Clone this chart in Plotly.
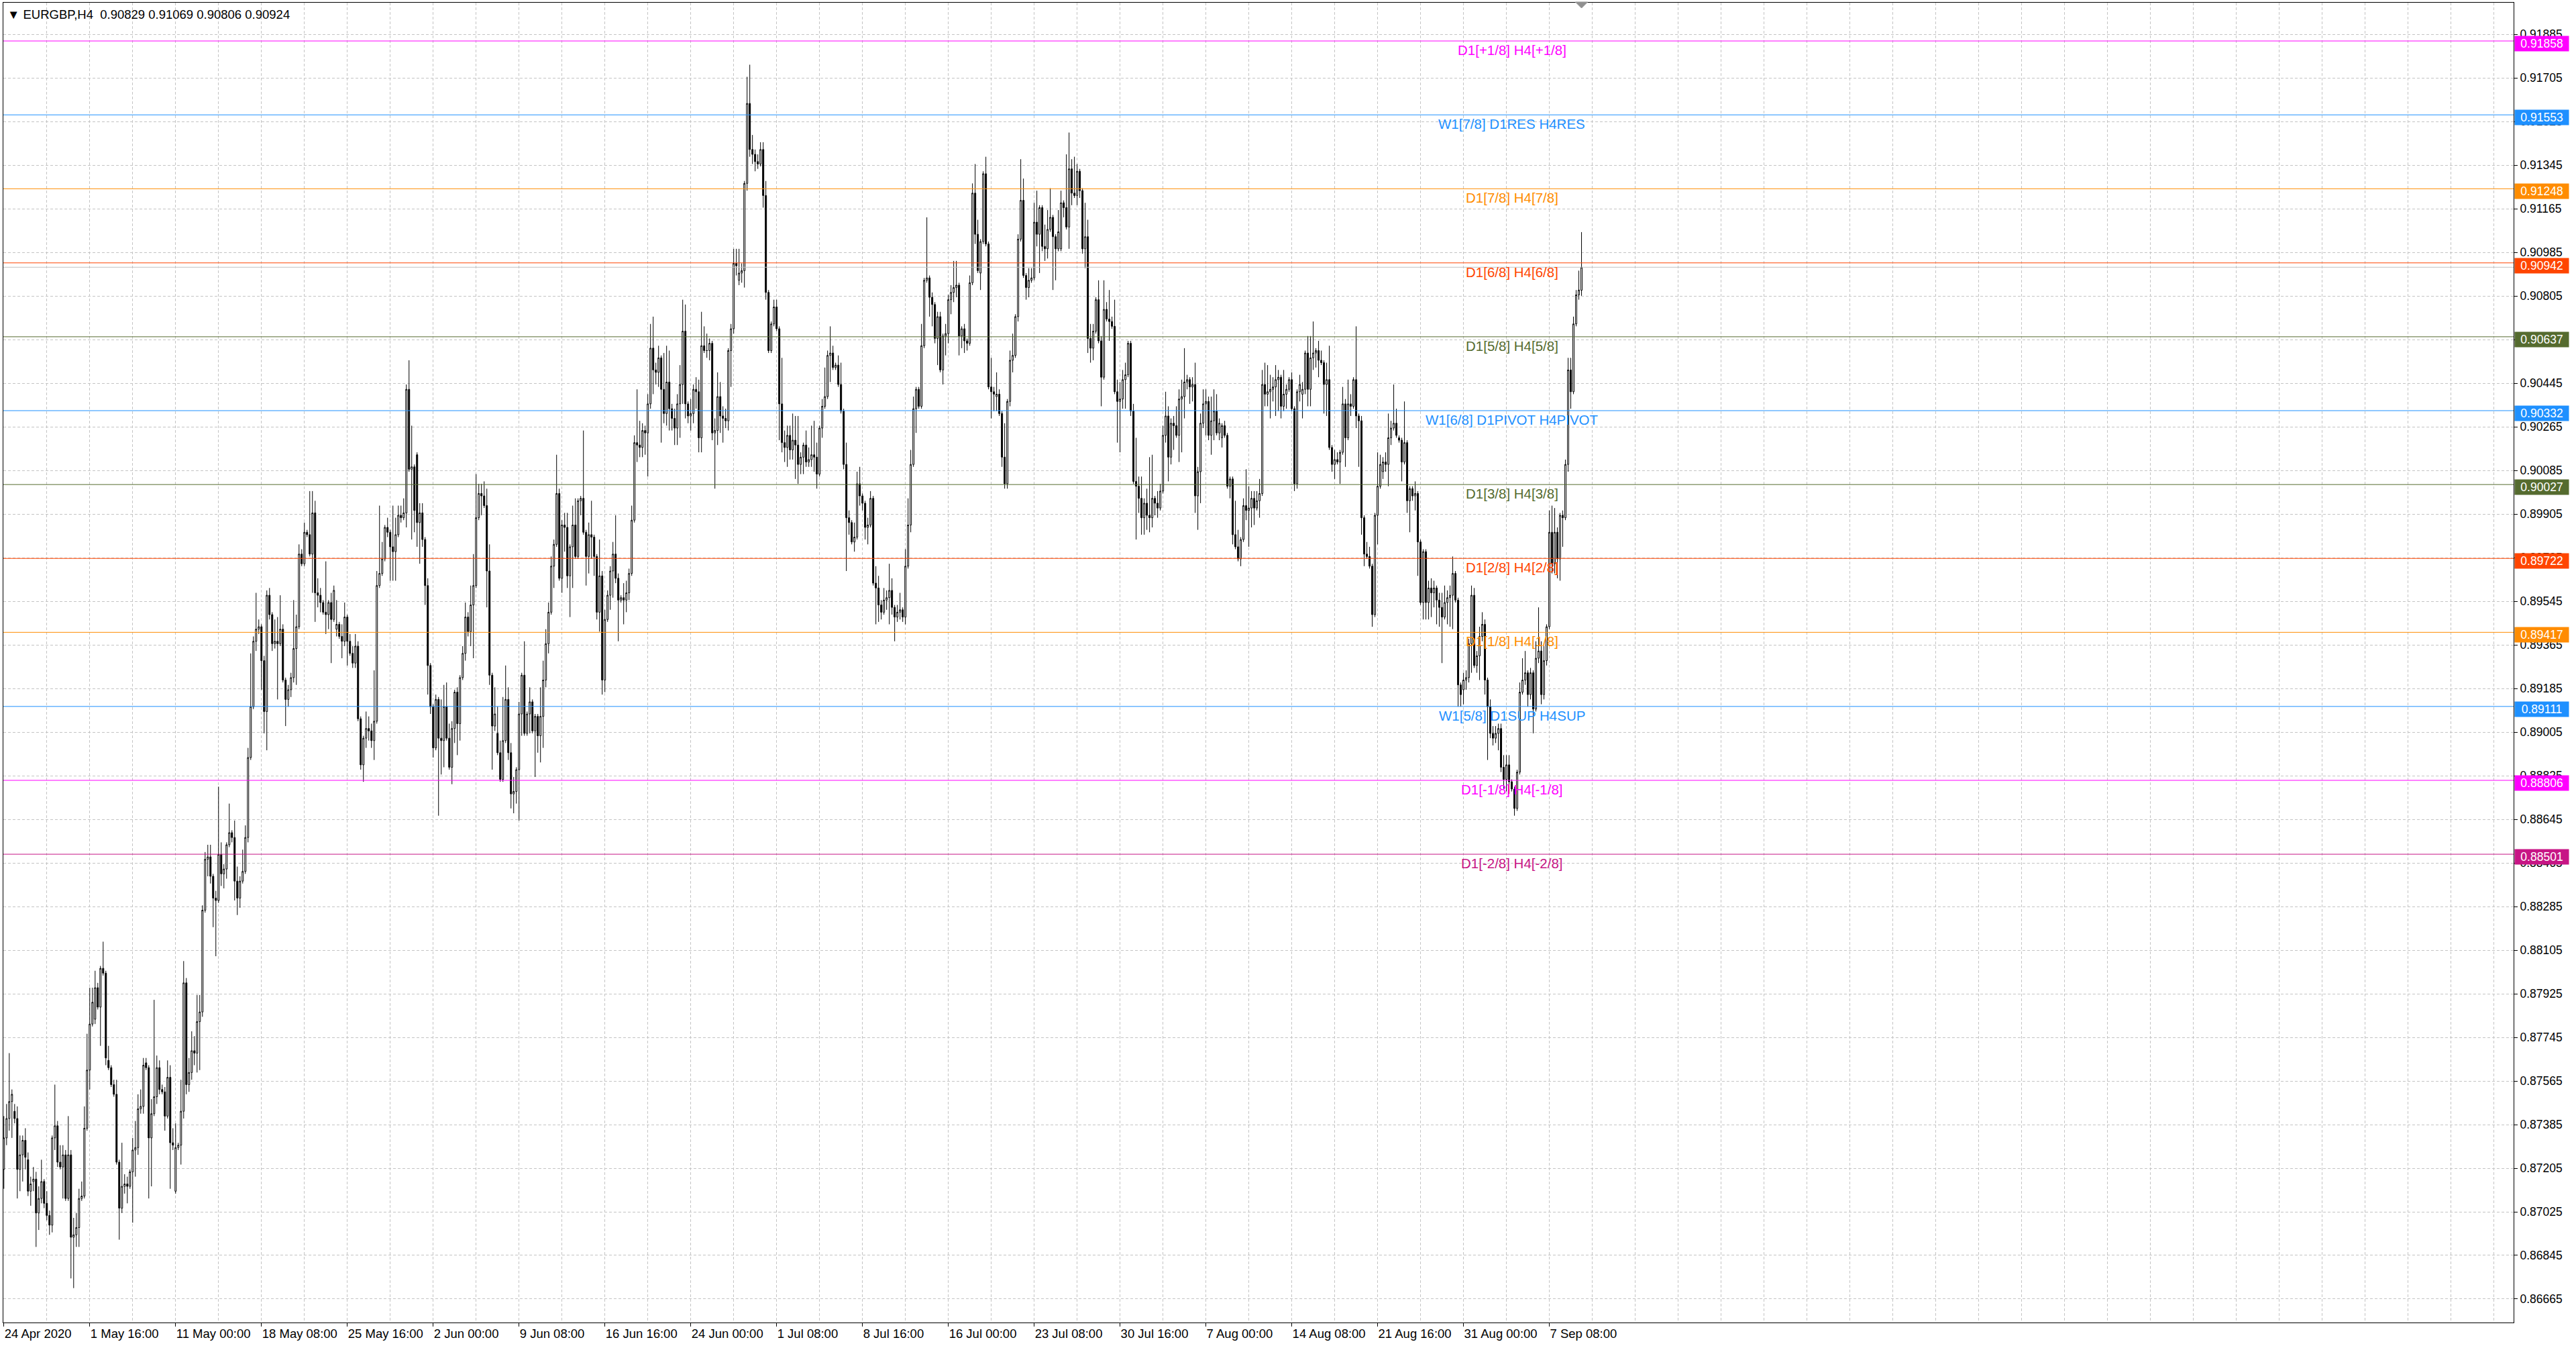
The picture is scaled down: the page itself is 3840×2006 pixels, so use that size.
import plotly.graph_objects as go

# EURGBP H4 candles, from 24 Apr 2020 08:00 up to the live bar of 9 Sep 2020
bar_open = [
    0.8720, 0.8733, 0.8741, 0.8748, 0.8744, 0.8741, 0.8720, 0.8726, 0.8732, 0.8724,
    0.8711, 0.8715, 0.8716, 0.8702, 0.8708, 0.8715, 0.8706, 0.8701, 0.8697, 0.8733,
    0.8738, 0.8723, 0.8721, 0.8726, 0.8708, 0.8726, 0.8692, 0.8693, 0.8696, 0.8708,
    0.8709, 0.8737, 0.8761, 0.8780, 0.8782, 0.8795, 0.8787, 0.8803, 0.8801, 0.8765,
    0.8762, 0.8755, 0.8751, 0.8723, 0.8704, 0.8713, 0.8714, 0.8713, 0.8719, 0.8728,
    0.8729, 0.8745, 0.8746, 0.8764, 0.8762, 0.8733, 0.8743, 0.8750, 0.8762, 0.8753,
    0.8752, 0.8742, 0.8758, 0.8731, 0.8711, 0.8729, 0.8730, 0.8744, 0.8797, 0.8755,
    0.8760, 0.8769, 0.8768, 0.8781, 0.8785, 0.8827, 0.8848, 0.8849, 0.8841, 0.8832,
    0.8831, 0.8850, 0.8842, 0.8844, 0.8854, 0.8859, 0.8857, 0.8839, 0.8832, 0.8839,
    0.8843, 0.8857, 0.8890, 0.8911, 0.8938, 0.8943, 0.8944, 0.8930, 0.8909, 0.8957,
    0.8949, 0.8937, 0.8938, 0.8937, 0.8943, 0.8922, 0.8914, 0.8918, 0.8923, 0.8935,
    0.8944, 0.8974, 0.8970, 0.8983, 0.8982, 0.8974, 0.8991, 0.8958, 0.8957, 0.8954,
    0.8950, 0.8949, 0.8954, 0.8947, 0.8943, 0.8945, 0.8940, 0.8938, 0.8948, 0.8938,
    0.8933, 0.8929, 0.8936, 0.8906, 0.8887, 0.8898, 0.8902, 0.8901, 0.8897, 0.8905,
    0.8961, 0.8966, 0.8972, 0.8985, 0.8983, 0.8977, 0.8975, 0.8982, 0.8990, 0.8989,
    0.8991, 0.9042, 0.9009, 0.9010, 0.9015, 0.8987, 0.8991, 0.8980, 0.8961, 0.8928,
    0.8911, 0.8894, 0.8914, 0.8898, 0.8897, 0.8911, 0.8898, 0.8886, 0.8902, 0.8917,
    0.8904, 0.8923, 0.8933, 0.8948, 0.8942, 0.8953, 0.8961, 0.8989, 0.8999, 0.8998,
    0.8994, 0.8967, 0.8924, 0.8903, 0.8900, 0.8892, 0.8881, 0.8897, 0.8914, 0.8892,
    0.8875, 0.8876, 0.8885, 0.8908, 0.8924, 0.8900, 0.8908, 0.8913, 0.8901, 0.8907,
    0.8899, 0.8907, 0.8922, 0.8937, 0.8950, 0.8969, 0.8978, 0.8999, 0.8964, 0.8986,
    0.8985, 0.8965, 0.8977, 0.8986, 0.8973, 0.8996, 0.8997, 0.8983, 0.8973, 0.8982,
    0.8981, 0.8973, 0.8950, 0.8965, 0.8922, 0.8947, 0.8957, 0.8967, 0.8974, 0.8964,
    0.8955, 0.8956, 0.8955, 0.8958, 0.8966, 0.8988, 0.9020, 0.9019, 0.9018, 0.9025,
    0.9024, 0.9036, 0.9059, 0.9050, 0.9049, 0.9055, 0.9042, 0.9032, 0.9045, 0.9034,
    0.9030, 0.9026, 0.9036, 0.9044, 0.9066, 0.9036, 0.9031, 0.9032, 0.9042, 0.9041,
    0.9022, 0.9060, 0.9058, 0.9058, 0.9061, 0.9024, 0.9025, 0.9039, 0.9031, 0.9030,
    0.9029, 0.9058, 0.9067, 0.9094, 0.9087, 0.9090, 0.9091, 0.9127, 0.9160, 0.9141,
    0.9139, 0.9136, 0.9135, 0.9141, 0.9122, 0.9082, 0.9058, 0.9069, 0.9076, 0.9067,
    0.9036, 0.9020, 0.9018, 0.9023, 0.9017, 0.9021, 0.9019, 0.9011, 0.9014, 0.9019,
    0.9012, 0.9013, 0.9015, 0.9014, 0.9007, 0.9026, 0.9035, 0.9039, 0.9056, 0.9057,
    0.9051, 0.9052, 0.9044, 0.9033, 0.9011, 0.8989, 0.8987, 0.8979, 0.8981, 0.9003,
    0.8998, 0.8995, 0.8985, 0.8986, 0.8997, 0.8962, 0.8960, 0.8953, 0.8950, 0.8955,
    0.8956, 0.8959, 0.8952, 0.8948, 0.8950, 0.8951, 0.8948, 0.8969, 0.8986, 0.9011,
    0.9034, 0.9042, 0.9035, 0.9060, 0.9087, 0.9088, 0.9080, 0.9077, 0.9063, 0.9072,
    0.9050, 0.9064, 0.9065, 0.9079, 0.9082, 0.9084, 0.9085, 0.9064, 0.9067, 0.9062,
    0.9061, 0.9086, 0.9123, 0.9106, 0.9090, 0.9103, 0.9131, 0.9102, 0.9043, 0.9041,
    0.9039, 0.9040, 0.9032, 0.9014, 0.9003, 0.9037, 0.9054, 0.9056, 0.9072, 0.9104,
    0.9120, 0.9089, 0.9084, 0.9087, 0.9088, 0.9111, 0.9106, 0.9117, 0.9101, 0.9100,
    0.9108, 0.9113, 0.9105, 0.9100, 0.9100, 0.9119, 0.9117, 0.9109, 0.9133, 0.9123,
    0.9122, 0.9132, 0.9124, 0.9100, 0.9105, 0.9063, 0.9059, 0.9066, 0.9079, 0.9062,
    0.9047, 0.9075, 0.9071, 0.9070, 0.9068, 0.9041, 0.9037, 0.9038, 0.9046, 0.9048,
    0.9061, 0.9033, 0.9004, 0.9002, 0.8997, 0.8989, 0.8995, 0.8990, 0.8989, 0.8997,
    0.8995, 0.8993, 0.9000, 0.9023, 0.9031, 0.9014, 0.9028, 0.9027, 0.9023, 0.9038,
    0.9039, 0.9045, 0.9046, 0.9043, 0.9044, 0.8998, 0.9008, 0.9028, 0.9036, 0.9037,
    0.9023, 0.9029, 0.9033, 0.9024, 0.9022, 0.9027, 0.9023, 0.9002, 0.9005, 0.8982,
    0.8977, 0.8972, 0.8980, 0.8994, 0.8992, 0.8993, 0.8997, 0.8993, 0.8996, 0.8999,
    0.9044, 0.9040, 0.9041, 0.9042, 0.9043, 0.9046, 0.9047, 0.9035, 0.9040, 0.9042,
    0.9046, 0.9034, 0.9003, 0.9041, 0.9040, 0.9042, 0.9057, 0.9042, 0.9055, 0.9057,
    0.9058, 0.9054, 0.9053, 0.9044, 0.9046, 0.9018, 0.9011, 0.9013, 0.9012, 0.9016,
    0.9036, 0.9022, 0.9036, 0.9035, 0.9046, 0.9031, 0.9029, 0.8989, 0.8974, 0.8973,
    0.8969, 0.8949, 0.8990, 0.9002, 0.9008, 0.9012, 0.9011, 0.9022, 0.9026, 0.9028,
    0.9022, 0.9021, 0.9012, 0.9020, 0.8996, 0.9001, 0.8998, 0.8999, 0.8979, 0.8954,
    0.8975, 0.8954, 0.8960, 0.8958, 0.8960, 0.8955, 0.8952, 0.8948, 0.8954, 0.8956,
    0.8957, 0.8966, 0.8955, 0.8920, 0.8918, 0.8922, 0.8923, 0.8937, 0.8957, 0.8928,
    0.8932, 0.8940, 0.8945, 0.8922, 0.8911, 0.8900, 0.8898, 0.8900, 0.8902, 0.8886,
    0.8881, 0.8887, 0.8880, 0.8877, 0.8869, 0.8884, 0.8917, 0.8922, 0.8925, 0.8916,
    0.8925, 0.8910, 0.8931, 0.8934, 0.8916, 0.8930, 0.8944, 0.8983, 0.8970, 0.8983,
    0.8972, 0.8990, 0.8989, 0.9011, 0.9050, 0.9041, 0.9069, 0.9081, 0.90829,
]
bar_high = [
    0.8742, 0.8747, 0.8768, 0.8753, 0.8747, 0.8746, 0.8734, 0.8734, 0.8737, 0.8727,
    0.8717, 0.8721, 0.8719, 0.8713, 0.8724, 0.8716, 0.8711, 0.8703, 0.8734, 0.8755,
    0.8740, 0.8730, 0.8730, 0.8728, 0.8742, 0.8728, 0.8700, 0.8702, 0.8712, 0.8715,
    0.8746, 0.8776, 0.8795, 0.8795, 0.8802, 0.8797, 0.8804, 0.8814, 0.8802, 0.8771,
    0.8763, 0.8757, 0.8757, 0.8724, 0.8731, 0.8718, 0.8717, 0.8720, 0.8733, 0.8740,
    0.8751, 0.8753, 0.8766, 0.8766, 0.8763, 0.8749, 0.8790, 0.8767, 0.8765, 0.8755,
    0.8754, 0.8765, 0.8763, 0.8737, 0.8739, 0.8731, 0.8757, 0.8806, 0.8799, 0.8766,
    0.8777, 0.8775, 0.8792, 0.8792, 0.8829, 0.8851, 0.8854, 0.8854, 0.8842, 0.8835,
    0.8878, 0.8855, 0.8846, 0.8855, 0.8871, 0.8860, 0.8864, 0.8845, 0.8841, 0.8852,
    0.8862, 0.8894, 0.8933, 0.8940, 0.8958, 0.8947, 0.8945, 0.8932, 0.8959, 0.8960,
    0.8950, 0.8947, 0.8948, 0.8957, 0.8945, 0.8923, 0.8920, 0.8925, 0.8955, 0.8949,
    0.8978, 0.8976, 0.8987, 0.8984, 0.9000, 0.9000, 0.8996, 0.8964, 0.8960, 0.8955,
    0.8971, 0.8955, 0.8958, 0.8961, 0.8955, 0.8946, 0.8945, 0.8954, 0.8949, 0.8941,
    0.8936, 0.8941, 0.8938, 0.8907, 0.8899, 0.8909, 0.8907, 0.8904, 0.8926, 0.8967,
    0.8994, 0.8979, 0.8986, 0.8989, 0.8984, 0.8994, 0.8989, 0.8994, 0.8994, 0.8997,
    0.9044, 0.9054, 0.9027, 0.9011, 0.9016, 0.8995, 0.8995, 0.8981, 0.8964, 0.8929,
    0.8912, 0.8916, 0.8915, 0.8914, 0.8920, 0.8921, 0.8904, 0.8905, 0.8918, 0.8919,
    0.8924, 0.8936, 0.8954, 0.8950, 0.8961, 0.8974, 0.9007, 0.9003, 0.9003, 0.9004,
    0.9001, 0.8978, 0.8925, 0.8919, 0.8911, 0.8897, 0.8915, 0.8928, 0.8919, 0.8896,
    0.8882, 0.8886, 0.8913, 0.8925, 0.8938, 0.8909, 0.8919, 0.8914, 0.8908, 0.8908,
    0.8919, 0.8930, 0.8943, 0.8954, 0.8973, 0.8980, 0.9015, 0.9001, 0.8988, 0.8991,
    0.8991, 0.8978, 0.8994, 0.8997, 0.8997, 0.8998, 0.9025, 0.8984, 0.8987, 0.8996,
    0.8982, 0.8974, 0.8980, 0.8967, 0.8951, 0.8959, 0.8969, 0.8979, 0.8990, 0.8966,
    0.8957, 0.8962, 0.8963, 0.8968, 0.8994, 0.9023, 0.9042, 0.9029, 0.9028, 0.9027,
    0.9040, 0.9069, 0.9072, 0.9053, 0.9060, 0.9056, 0.9057, 0.9060, 0.9058, 0.9036,
    0.9034, 0.9040, 0.9052, 0.9079, 0.9077, 0.9037, 0.9038, 0.9044, 0.9047, 0.9046,
    0.9074, 0.9068, 0.9065, 0.9063, 0.9062, 0.9030, 0.9049, 0.9045, 0.9035, 0.9034,
    0.9059, 0.9069, 0.9100, 0.9100, 0.9100, 0.9094, 0.9128, 0.9171, 0.9176, 0.9147,
    0.9141, 0.9139, 0.9144, 0.9144, 0.9128, 0.9083, 0.9070, 0.9079, 0.9079, 0.9068,
    0.9055, 0.9025, 0.9027, 0.9027, 0.9032, 0.9031, 0.9031, 0.9016, 0.9020, 0.9025,
    0.9018, 0.9027, 0.9029, 0.9020, 0.9027, 0.9038, 0.9051, 0.9058, 0.9068, 0.9060,
    0.9053, 0.9056, 0.9053, 0.9034, 0.9020, 0.8992, 0.8988, 0.8987, 0.9008, 0.9010,
    0.8999, 0.8996, 0.8989, 0.9000, 0.8998, 0.8969, 0.8965, 0.8955, 0.8960, 0.8959,
    0.8970, 0.8964, 0.8953, 0.8953, 0.8958, 0.8952, 0.8976, 0.8997, 0.9017, 0.9039,
    0.9043, 0.9043, 0.9069, 0.9088, 0.9113, 0.9089, 0.9082, 0.9078, 0.9074, 0.9074,
    0.9065, 0.9069, 0.9081, 0.9085, 0.9095, 0.9095, 0.9086, 0.9068, 0.9069, 0.9063,
    0.9089, 0.9127, 0.9135, 0.9112, 0.9104, 0.9132, 0.9138, 0.9103, 0.9055, 0.9043,
    0.9049, 0.9042, 0.9033, 0.9028, 0.9038, 0.9058, 0.9065, 0.9073, 0.9106, 0.9137,
    0.9129, 0.9090, 0.9092, 0.9092, 0.9119, 0.9124, 0.9118, 0.9118, 0.9110, 0.9116,
    0.9125, 0.9114, 0.9106, 0.9116, 0.9124, 0.9120, 0.9139, 0.9148, 0.9137, 0.9138,
    0.9135, 0.9133, 0.9125, 0.9119, 0.9112, 0.9069, 0.9069, 0.9080, 0.9087, 0.9064,
    0.9087, 0.9078, 0.9083, 0.9072, 0.9079, 0.9046, 0.9045, 0.9050, 0.9053, 0.9062,
    0.9062, 0.9036, 0.9022, 0.9006, 0.9006, 0.8997, 0.9001, 0.9014, 0.9015, 0.8998,
    0.9000, 0.9003, 0.9027, 0.9041, 0.9035, 0.9030, 0.9031, 0.9035, 0.9042, 0.9046,
    0.9059, 0.9048, 0.9047, 0.9047, 0.9053, 0.9010, 0.9032, 0.9042, 0.9042, 0.9039,
    0.9039, 0.9042, 0.9040, 0.9030, 0.9028, 0.9029, 0.9024, 0.9006, 0.9006, 0.8996,
    0.8984, 0.8981, 0.8997, 0.9009, 0.9002, 0.9000, 0.9000, 0.9000, 0.9005, 0.9050,
    0.9053, 0.9052, 0.9048, 0.9047, 0.9052, 0.9050, 0.9048, 0.9050, 0.9044, 0.9047,
    0.9049, 0.9035, 0.9042, 0.9048, 0.9045, 0.9058, 0.9064, 0.9064, 0.9070, 0.9059,
    0.9062, 0.9058, 0.9054, 0.9053, 0.9060, 0.9019, 0.9017, 0.9016, 0.9017, 0.9043,
    0.9038, 0.9046, 0.9040, 0.9047, 0.9068, 0.9032, 0.9031, 0.8990, 0.8979, 0.8977,
    0.8970, 0.8991, 0.9016, 0.9015, 0.9014, 0.9016, 0.9032, 0.9029, 0.9044, 0.9034,
    0.9023, 0.9022, 0.9037, 0.9021, 0.9002, 0.9002, 0.9004, 0.9000, 0.8980, 0.8976,
    0.8976, 0.8963, 0.8964, 0.8963, 0.8961, 0.8958, 0.8958, 0.8961, 0.8959, 0.8961,
    0.8973, 0.8967, 0.8956, 0.8921, 0.8925, 0.8926, 0.8939, 0.8961, 0.8960, 0.8934,
    0.8944, 0.8950, 0.8947, 0.8923, 0.8914, 0.8903, 0.8903, 0.8904, 0.8904, 0.8891,
    0.8891, 0.8891, 0.8881, 0.8878, 0.8885, 0.8921, 0.8931, 0.8934, 0.8926, 0.8927,
    0.8926, 0.8938, 0.8952, 0.8938, 0.8936, 0.8945, 0.8992, 0.8994, 0.8993, 0.8985,
    0.8991, 0.8992, 0.9013, 0.9055, 0.9055, 0.9072, 0.9083, 0.9091, 0.91069,
]
bar_low = [
    0.8712, 0.8730, 0.8736, 0.8733, 0.8739, 0.8708, 0.8711, 0.8715, 0.8720, 0.8709,
    0.8705, 0.8711, 0.8688, 0.8695, 0.8706, 0.8704, 0.8699, 0.8693, 0.8694, 0.8728,
    0.8721, 0.8720, 0.8708, 0.8707, 0.8707, 0.8675, 0.8671, 0.8688, 0.8688, 0.8707,
    0.8708, 0.8736, 0.8753, 0.8779, 0.8780, 0.8786, 0.8771, 0.8800, 0.8763, 0.8761,
    0.8754, 0.8750, 0.8722, 0.8691, 0.8702, 0.8710, 0.8706, 0.8712, 0.8698, 0.8717,
    0.8726, 0.8743, 0.8743, 0.8761, 0.8708, 0.8713, 0.8742, 0.8747, 0.8751, 0.8751,
    0.8736, 0.8741, 0.8712, 0.8728, 0.8710, 0.8728, 0.8722, 0.8741, 0.8751, 0.8752,
    0.8757, 0.8763, 0.8760, 0.8761, 0.8783, 0.8826, 0.8841, 0.8838, 0.8820, 0.8808,
    0.8830, 0.8837, 0.8836, 0.8840, 0.8853, 0.8855, 0.8831, 0.8825, 0.8828, 0.8838,
    0.8842, 0.8855, 0.8889, 0.8910, 0.8934, 0.8941, 0.8918, 0.8900, 0.8893, 0.8947,
    0.8934, 0.8935, 0.8914, 0.8936, 0.8921, 0.8903, 0.8911, 0.8915, 0.8921, 0.8920,
    0.8943, 0.8969, 0.8969, 0.8981, 0.8973, 0.8958, 0.8946, 0.8952, 0.8950, 0.8949,
    0.8941, 0.8943, 0.8929, 0.8946, 0.8940, 0.8939, 0.8931, 0.8936, 0.8928, 0.8932,
    0.8927, 0.8927, 0.8905, 0.8885, 0.8880, 0.8894, 0.8897, 0.8894, 0.8889, 0.8904,
    0.8960, 0.8965, 0.8971, 0.8981, 0.8963, 0.8963, 0.8963, 0.8981, 0.8987, 0.8988,
    0.8985, 0.9008, 0.8980, 0.8983, 0.8977, 0.8970, 0.8977, 0.8953, 0.8916, 0.8908,
    0.8890, 0.8893, 0.8866, 0.8883, 0.8886, 0.8897, 0.8885, 0.8879, 0.8896, 0.8891,
    0.8897, 0.8922, 0.8930, 0.8940, 0.8936, 0.8931, 0.8960, 0.8988, 0.8990, 0.8993,
    0.8952, 0.8920, 0.8885, 0.8901, 0.8891, 0.8880, 0.8880, 0.8896, 0.8889, 0.8869,
    0.8867, 0.8871, 0.8864, 0.8899, 0.8899, 0.8899, 0.8900, 0.8900, 0.8882, 0.8892,
    0.8888, 0.8894, 0.8919, 0.8933, 0.8949, 0.8960, 0.8977, 0.8963, 0.8958, 0.8975,
    0.8960, 0.8948, 0.8960, 0.8972, 0.8972, 0.8990, 0.8982, 0.8961, 0.8966, 0.8972,
    0.8965, 0.8947, 0.8942, 0.8916, 0.8917, 0.8946, 0.8951, 0.8956, 0.8962, 0.8938,
    0.8954, 0.8945, 0.8950, 0.8955, 0.8965, 0.8987, 0.9012, 0.9014, 0.9014, 0.9015,
    0.9006, 0.9034, 0.9040, 0.9044, 0.9043, 0.9020, 0.9028, 0.9027, 0.9025, 0.9025,
    0.9019, 0.9019, 0.9022, 0.9036, 0.9030, 0.9028, 0.9025, 0.9028, 0.9034, 0.9016,
    0.9016, 0.9057, 0.9055, 0.9054, 0.9021, 0.9001, 0.9019, 0.9024, 0.9020, 0.9026,
    0.9025, 0.9043, 0.9065, 0.9089, 0.9085, 0.9086, 0.9084, 0.9124, 0.9138, 0.9135,
    0.9132, 0.9133, 0.9134, 0.9117, 0.9079, 0.9057, 0.9057, 0.9068, 0.9066, 0.9021,
    0.9016, 0.9012, 0.9010, 0.9013, 0.9013, 0.9005, 0.9003, 0.9007, 0.9007, 0.9010,
    0.9010, 0.9010, 0.9008, 0.9001, 0.9006, 0.9022, 0.9034, 0.9038, 0.9045, 0.9050,
    0.9050, 0.9043, 0.9032, 0.9009, 0.8967, 0.8982, 0.8978, 0.8975, 0.8980, 0.8994,
    0.8992, 0.8980, 0.8978, 0.8985, 0.8961, 0.8945, 0.8946, 0.8947, 0.8949, 0.8951,
    0.8945, 0.8949, 0.8938, 0.8946, 0.8947, 0.8946, 0.8945, 0.8968, 0.8983, 0.9010,
    0.9024, 0.9034, 0.9034, 0.9059, 0.9086, 0.9072, 0.9068, 0.9061, 0.9052, 0.9049,
    0.9044, 0.9056, 0.9061, 0.9073, 0.9078, 0.9080, 0.9056, 0.9059, 0.9057, 0.9058,
    0.9060, 0.9085, 0.9102, 0.9090, 0.9083, 0.9102, 0.9101, 0.9042, 0.9030, 0.9033,
    0.9033, 0.9031, 0.9010, 0.9001, 0.9001, 0.9035, 0.9049, 0.9055, 0.9070, 0.9103,
    0.9088, 0.9079, 0.9080, 0.9086, 0.9087, 0.9101, 0.9090, 0.9099, 0.9095, 0.9096,
    0.9107, 0.9083, 0.9087, 0.9099, 0.9099, 0.9113, 0.9108, 0.9100, 0.9118, 0.9121,
    0.9118, 0.9121, 0.9098, 0.9092, 0.9057, 0.9053, 0.9054, 0.9065, 0.9061, 0.9035,
    0.9046, 0.9070, 0.9062, 0.9067, 0.9040, 0.9020, 0.9016, 0.9034, 0.9034, 0.9047,
    0.9031, 0.9003, 0.8980, 0.8991, 0.8982, 0.8982, 0.8984, 0.8983, 0.8985, 0.8990,
    0.8989, 0.8992, 0.8999, 0.9020, 0.9004, 0.9011, 0.9017, 0.9022, 0.9012, 0.9016,
    0.9030, 0.9042, 0.9036, 0.9037, 0.8991, 0.8984, 0.8995, 0.9026, 0.9023, 0.9021,
    0.9015, 0.9021, 0.9023, 0.9021, 0.9018, 0.9022, 0.9001, 0.8997, 0.8978, 0.8976,
    0.8971, 0.8969, 0.8979, 0.8988, 0.8977, 0.8985, 0.8986, 0.8992, 0.8989, 0.8998,
    0.9035, 0.9035, 0.9030, 0.9037, 0.9031, 0.9033, 0.9030, 0.9033, 0.9034, 0.9041,
    0.9033, 0.9000, 0.9001, 0.9037, 0.9030, 0.9040, 0.9035, 0.9035, 0.9050, 0.9051,
    0.9047, 0.9052, 0.9032, 0.9031, 0.9017, 0.9008, 0.9005, 0.9011, 0.9003, 0.9015,
    0.9010, 0.9021, 0.9031, 0.9034, 0.9026, 0.9010, 0.8982, 0.8969, 0.8972, 0.8968,
    0.8944, 0.8948, 0.8978, 0.9001, 0.9005, 0.9008, 0.9002, 0.9019, 0.9025, 0.9022,
    0.9020, 0.9004, 0.9011, 0.8991, 0.8983, 0.8996, 0.8992, 0.8965, 0.8953, 0.8947,
    0.8947, 0.8947, 0.8948, 0.8952, 0.8945, 0.8944, 0.8929, 0.8947, 0.8945, 0.8944,
    0.8943, 0.8954, 0.8911, 0.8911, 0.8912, 0.8918, 0.8921, 0.8925, 0.8927, 0.8925,
    0.8922, 0.8938, 0.8916, 0.8889, 0.8898, 0.8895, 0.8896, 0.8893, 0.8884, 0.8877,
    0.8876, 0.8875, 0.8876, 0.8866, 0.8868, 0.8883, 0.8916, 0.8920, 0.8911, 0.8914,
    0.8900, 0.8909, 0.8929, 0.8912, 0.8914, 0.8928, 0.8943, 0.8966, 0.8966, 0.8964,
    0.8963, 0.8977, 0.8988, 0.9008, 0.9034, 0.9040, 0.9068, 0.9079, 0.90806,
]
bar_close = [
    0.8733, 0.8741, 0.8748, 0.8751, 0.8741, 0.8720, 0.8726, 0.8732, 0.8725, 0.8711,
    0.8714, 0.8716, 0.8702, 0.8708, 0.8715, 0.8706, 0.8701, 0.8697, 0.8733, 0.8738,
    0.8723, 0.8721, 0.8726, 0.8708, 0.8726, 0.8692, 0.8693, 0.8696, 0.8708, 0.8709,
    0.8737, 0.8761, 0.8780, 0.8789, 0.8795, 0.8787, 0.8803, 0.8801, 0.8766, 0.8762,
    0.8755, 0.8751, 0.8723, 0.8704, 0.8713, 0.8714, 0.8713, 0.8719, 0.8728, 0.8729,
    0.8745, 0.8746, 0.8763, 0.8762, 0.8733, 0.8743, 0.8750, 0.8762, 0.8753, 0.8752,
    0.8742, 0.8758, 0.8731, 0.8730, 0.8729, 0.8730, 0.8744, 0.8797, 0.8755, 0.8760,
    0.8769, 0.8768, 0.8781, 0.8785, 0.8827, 0.8848, 0.8849, 0.8841, 0.8832, 0.8831,
    0.8850, 0.8842, 0.8844, 0.8854, 0.8859, 0.8857, 0.8839, 0.8832, 0.8839, 0.8843,
    0.8857, 0.8890, 0.8911, 0.8938, 0.8943, 0.8944, 0.8930, 0.8909, 0.8957, 0.8949,
    0.8937, 0.8938, 0.8937, 0.8943, 0.8922, 0.8914, 0.8918, 0.8923, 0.8935, 0.8944,
    0.8974, 0.8970, 0.8983, 0.8982, 0.8974, 0.8991, 0.8958, 0.8957, 0.8954, 0.8950,
    0.8949, 0.8954, 0.8947, 0.8959, 0.8945, 0.8940, 0.8938, 0.8948, 0.8938, 0.8933,
    0.8929, 0.8936, 0.8906, 0.8887, 0.8898, 0.8902, 0.8901, 0.8897, 0.8905, 0.8961,
    0.8966, 0.8972, 0.8985, 0.8983, 0.8977, 0.8975, 0.8982, 0.8990, 0.8989, 0.8991,
    0.9042, 0.9009, 0.9010, 0.8992, 0.8987, 0.8991, 0.8980, 0.8961, 0.8928, 0.8911,
    0.8894, 0.8914, 0.8898, 0.8897, 0.8911, 0.8898, 0.8886, 0.8902, 0.8917, 0.8904,
    0.8923, 0.8933, 0.8948, 0.8942, 0.8953, 0.8961, 0.8989, 0.8999, 0.8998, 0.8994,
    0.8967, 0.8924, 0.8903, 0.8908, 0.8892, 0.8881, 0.8897, 0.8914, 0.8892, 0.8875,
    0.8876, 0.8885, 0.8908, 0.8924, 0.8900, 0.8908, 0.8913, 0.8901, 0.8907, 0.8899,
    0.8907, 0.8922, 0.8937, 0.8950, 0.8969, 0.8978, 0.8999, 0.8964, 0.8986, 0.8985,
    0.8965, 0.8977, 0.8986, 0.8973, 0.8996, 0.8997, 0.8983, 0.8973, 0.8982, 0.8981,
    0.8973, 0.8950, 0.8965, 0.8922, 0.8947, 0.8957, 0.8967, 0.8974, 0.8964, 0.8955,
    0.8956, 0.8955, 0.8958, 0.8966, 0.8988, 0.9020, 0.9019, 0.9018, 0.9025, 0.9024,
    0.9036, 0.9059, 0.9050, 0.9049, 0.9055, 0.9042, 0.9032, 0.9045, 0.9034, 0.9030,
    0.9026, 0.9036, 0.9044, 0.9066, 0.9036, 0.9031, 0.9032, 0.9042, 0.9041, 0.9022,
    0.9060, 0.9058, 0.9058, 0.9061, 0.9024, 0.9025, 0.9039, 0.9031, 0.9030, 0.9029,
    0.9058, 0.9067, 0.9094, 0.9093, 0.9090, 0.9091, 0.9127, 0.9160, 0.9141, 0.9139,
    0.9136, 0.9135, 0.9141, 0.9122, 0.9082, 0.9058, 0.9069, 0.9076, 0.9067, 0.9036,
    0.9020, 0.9018, 0.9023, 0.9017, 0.9021, 0.9019, 0.9011, 0.9014, 0.9019, 0.9012,
    0.9013, 0.9015, 0.9014, 0.9007, 0.9026, 0.9035, 0.9039, 0.9056, 0.9057, 0.9051,
    0.9052, 0.9044, 0.9033, 0.9011, 0.8989, 0.8987, 0.8979, 0.8981, 0.9003, 0.8998,
    0.8995, 0.8985, 0.8986, 0.8997, 0.8962, 0.8960, 0.8953, 0.8950, 0.8955, 0.8956,
    0.8959, 0.8952, 0.8948, 0.8950, 0.8951, 0.8948, 0.8969, 0.8986, 0.9011, 0.9034,
    0.9042, 0.9035, 0.9060, 0.9087, 0.9088, 0.9080, 0.9077, 0.9063, 0.9072, 0.9050,
    0.9064, 0.9065, 0.9079, 0.9082, 0.9084, 0.9085, 0.9064, 0.9067, 0.9062, 0.9061,
    0.9086, 0.9123, 0.9106, 0.9091, 0.9103, 0.9131, 0.9102, 0.9043, 0.9041, 0.9040,
    0.9040, 0.9032, 0.9014, 0.9003, 0.9037, 0.9054, 0.9056, 0.9072, 0.9104, 0.9120,
    0.9089, 0.9084, 0.9087, 0.9088, 0.9111, 0.9106, 0.9117, 0.9101, 0.9100, 0.9108,
    0.9113, 0.9105, 0.9100, 0.9107, 0.9119, 0.9117, 0.9109, 0.9133, 0.9123, 0.9122,
    0.9132, 0.9124, 0.9100, 0.9105, 0.9063, 0.9059, 0.9066, 0.9079, 0.9062, 0.9047,
    0.9075, 0.9071, 0.9070, 0.9068, 0.9041, 0.9037, 0.9038, 0.9046, 0.9048, 0.9061,
    0.9033, 0.9004, 0.9002, 0.8997, 0.8989, 0.8995, 0.8990, 0.8989, 0.8997, 0.8995,
    0.8993, 0.9000, 0.9023, 0.9031, 0.9014, 0.9028, 0.9027, 0.9023, 0.9038, 0.9039,
    0.9045, 0.9046, 0.9043, 0.9044, 0.8998, 0.9008, 0.9028, 0.9036, 0.9037, 0.9023,
    0.9029, 0.9033, 0.9024, 0.9028, 0.9027, 0.9023, 0.9002, 0.9005, 0.8982, 0.8977,
    0.8972, 0.8980, 0.8994, 0.8992, 0.8993, 0.8997, 0.8993, 0.8996, 0.8999, 0.9044,
    0.9040, 0.9041, 0.9042, 0.9043, 0.9046, 0.9047, 0.9035, 0.9040, 0.9042, 0.9046,
    0.9034, 0.9003, 0.9041, 0.9044, 0.9042, 0.9057, 0.9042, 0.9055, 0.9057, 0.9058,
    0.9054, 0.9053, 0.9044, 0.9046, 0.9018, 0.9011, 0.9013, 0.9012, 0.9016, 0.9036,
    0.9022, 0.9036, 0.9035, 0.9046, 0.9031, 0.9029, 0.8989, 0.8974, 0.8973, 0.8969,
    0.8949, 0.8990, 0.9002, 0.9011, 0.9012, 0.9011, 0.9022, 0.9026, 0.9028, 0.9023,
    0.9021, 0.9012, 0.9020, 0.8996, 0.9001, 0.8998, 0.8999, 0.8979, 0.8954, 0.8975,
    0.8954, 0.8960, 0.8958, 0.8960, 0.8955, 0.8952, 0.8948, 0.8954, 0.8956, 0.8957,
    0.8966, 0.8955, 0.8920, 0.8916, 0.8922, 0.8923, 0.8937, 0.8957, 0.8928, 0.8932,
    0.8940, 0.8945, 0.8922, 0.8911, 0.8900, 0.8898, 0.8900, 0.8902, 0.8886, 0.8881,
    0.8887, 0.8880, 0.8877, 0.8869, 0.8884, 0.8917, 0.8922, 0.8925, 0.8916, 0.8925,
    0.8910, 0.8931, 0.8934, 0.8916, 0.8930, 0.8944, 0.8983, 0.8970, 0.8983, 0.8972,
    0.8990, 0.8989, 0.9011, 0.9050, 0.9041, 0.9069, 0.9081, 0.9083, 0.90924,
]

# time axis labels, one every 32 bars
time_labels = [
    "24 Apr 2020", "1 May 16:00", "11 May 00:00", "18 May 08:00", "25 May 16:00",
    "2 Jun 00:00", "9 Jun 08:00", "16 Jun 16:00", "24 Jun 00:00", "1 Jul 08:00",
    "8 Jul 16:00", "16 Jul 00:00", "23 Jul 08:00", "30 Jul 16:00", "7 Aug 00:00",
    "14 Aug 08:00", "21 Aug 16:00", "31 Aug 00:00", "7 Sep 08:00",
]
time_label_bars = [0, 32, 64, 96, 128, 160, 192, 224, 256, 288,
                   320, 352, 384, 416, 448, 480, 512, 544, 576]

price_ticks = [
    0.86665, 0.86845, 0.87025, 0.87205, 0.87385, 0.87565, 0.87745, 0.87925,
    0.88105, 0.88285, 0.88465, 0.88645, 0.88825, 0.89005, 0.89185, 0.89365,
    0.89545, 0.89725, 0.89905, 0.90085, 0.90265, 0.90445, 0.90625, 0.90805,
    0.90985, 0.91165, 0.91345, 0.91525, 0.91705, 0.91885,
]

# Murrey-style levels drawn by the indicator
level_prices = [0.91858, 0.91553, 0.91248, 0.90942, 0.90637, 0.90332,
                0.90027, 0.89722, 0.89417, 0.89111, 0.88806, 0.88501]
level_names = [
    "D1[+1/8] H4[+1/8]", "W1[7/8] D1RES H4RES", "D1[7/8] H4[7/8]",
    "D1[6/8] H4[6/8]", "D1[5/8] H4[5/8]", "W1[6/8] D1PIVOT H4PIVOT",
    "D1[3/8] H4[3/8]", "D1[2/8] H4[2/8]", "D1[1/8] H4[1/8]",
    "W1[5/8] D1SUP H4SUP", "D1[-1/8] H4[-1/8]", "D1[-2/8] H4[-2/8]",
]
level_colors = ["#FF00FF", "#1E90FF", "#FF8C00", "#FF4500", "#556B2F", "#1E90FF",
                "#556B2F", "#FF4500", "#FF8C00", "#1E90FF", "#FF00FF", "#C71585"]

bid_price = 0.90924
title_text = "\u25bc EURGBP,H4\u00a0\u00a00.90829 0.91069 0.90806 0.90924"

FONT = "Liberation Sans, Arial, sans-serif"
GRID = "#C4C4C4"

bar_index = list(range(len(bar_close)))

fig = go.Figure()
fig.add_trace(go.Candlestick(
    x=bar_index,
    open=bar_open, high=bar_high, low=bar_low, close=bar_close,
    increasing=dict(line=dict(color="black", width=1), fillcolor="white"),
    decreasing=dict(line=dict(color="black", width=1), fillcolor="black"),
    whiskerwidth=0,
    showlegend=False,
    hoverinfo="skip",
))

shapes = []
annotations = []

# bid line
shapes.append(dict(type="line", xref="paper", x0=0, x1=1, yref="y",
                   y0=bid_price, y1=bid_price, line=dict(color="#C0C0C0", width=1)))

for price, name, color in zip(level_prices, level_names, level_colors):
    shapes.append(dict(type="line", xref="paper", x0=0, x1=1, yref="y",
                       y0=price, y1=price, line=dict(color=color, width=1)))
    annotations.append(dict(
        x=562, y=price, xref="x", yref="y", text=name, showarrow=False,
        xanchor="center", yanchor="top", yshift=0,
        font=dict(family=FONT, size=20.5, color=color),
    ))
    annotations.append(dict(
        x=1, y=price, xref="paper", yref="y", text=f"{price:.5f}", showarrow=False,
        xanchor="left", yanchor="middle", xshift=1, yshift=-4,
        width=76, height=18, borderpad=2, align="center",
        bgcolor=color, font=dict(family=FONT, size=17.5, color="white"),
    ))

# shift marker at the top of the chart
shapes.append(dict(type="path", xref="x", yref="paper", xsizemode="pixel",
                   ysizemode="pixel", xanchor=len(bar_close) - 1, yanchor=1,
                   path="M -9,1 L 9,1 L 0,-8 Z",
                   fillcolor="#909090", line=dict(color="#909090", width=1)))

annotations.append(dict(
    x=0, y=1, xref="paper", yref="paper", text=title_text, showarrow=False,
    xanchor="left", yanchor="top", xshift=4, yshift=-5,
    font=dict(family=FONT, size=18.5, color="black"),
))

fig.update_layout(
    width=3840, height=2006,
    margin=dict(l=5, r=93, t=4, b=35),
    paper_bgcolor="white", plot_bgcolor="white",
    shapes=shapes, annotations=annotations,
    showlegend=False,
    xaxis=dict(
        range=[-0.2, 935.4],
        rangeslider=dict(visible=False),
        tickmode="array", tickvals=time_label_bars, ticktext=time_labels,
        ticks="outside", ticklen=5, tickcolor="black",
        ticklabelposition="outside right",
        tickfont=dict(family=FONT, size=18.5, color="black"),
        showgrid=True, gridcolor=GRID, griddash="4px,3px", gridwidth=1,
        minor=dict(tick0=0, dtick=16, showgrid=True, gridcolor=GRID,
                   griddash="4px,3px", gridwidth=1),
        showline=True, linecolor="black", linewidth=1, mirror=True,
        zeroline=False, fixedrange=True,
    ),
    yaxis=dict(
        range=[0.86568, 0.92016],
        side="right",
        tickmode="array", tickvals=price_ticks, tickformat=".5f",
        ticks="outside", ticklen=5, tickcolor="black",
        tickfont=dict(family=FONT, size=17.5, color="black"),
        showgrid=True, gridcolor=GRID, griddash="4px,3px", gridwidth=1,
        showline=True, linecolor="black", linewidth=1, mirror=True,
        zeroline=False, fixedrange=True,
    ),
)

fig.write_html(
    "out.html",
    config={"displayModeBar": False},
    post_script="document.body.style.margin='0';document.body.style.overflow='hidden';",
)
